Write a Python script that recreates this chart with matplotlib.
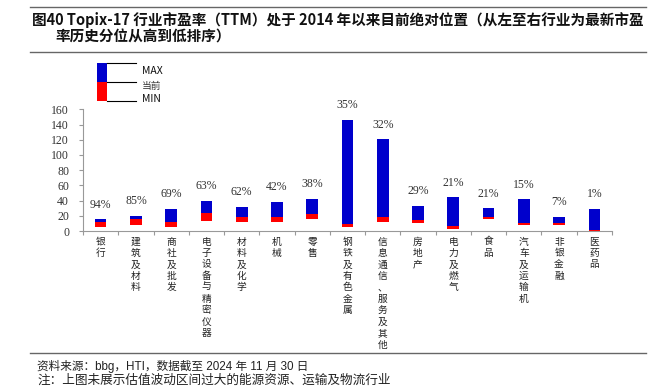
import matplotlib.pyplot as plt
from matplotlib.patches import Rectangle
from matplotlib.lines import Line2D

# 行业（从左到右按最新市盈率历史分位排序）
industries = ["银行", "建筑及材料", "商社及批发", "电子设备与精密仪器", "材料及化学",
              "机械", "零售", "钢铁及有色金属", "信息通信、服务及其他", "房地产",
              "电力及燃气", "食品", "汽车及运输机", "非银金融", "医药品"]
pe_max = [15.4, 19.7, 28.9, 39.5, 31.6, 38.2, 42.1, 146.0, 120.6, 32.9, 44.3, 29.8, 41.7, 18.9, 28.9]
pe_now = [12.2, 15.4, 11.4, 23.2, 18.0, 18.0, 22.8, 9.2, 18.0, 14.5, 7.0, 18.4, 10.5, 10.5, 0.8]
pe_min = [5.7, 7.9, 5.7, 13.2, 12.3, 12.3, 15.4, 4.8, 11.8, 11.0, 3.1, 15.4, 7.5, 7.9, 0.3]
pct_labels = ["94%", "85%", "69%", "63%", "62%", "42%", "38%", "35%", "32%", "29%",
              "21%", "21%", "15%", "7%", "1%"]
y_ticks = [0, 20, 40, 60, 80, 100, 120, 140, 160]

CJK = ["Noto Sans CJK SC", "DejaVu Sans"]
MIXED = ["Liberation Sans", "Noto Sans CJK SC"]
SERIF = ["Liberation Serif", "DejaVu Serif"]
BLUE = "#0000cc"
RED = "#ff0000"

W, H = 656, 389
fig = plt.figure(figsize=(W / 100, H / 100), dpi=100)


def px(x, y):
    # pixel position -> figure fraction
    return x / W, 1 - y / H


ax = fig.add_axes([83 / W, 1 - 231 / H, (612 - 83) / W, (231 - 109.3) / H])

x = list(range(len(industries)))
red_h = [n - m for n, m in zip(pe_now, pe_min)]
blue_h = [a - n for a, n in zip(pe_max, pe_now)]
ax.bar(x, red_h, bottom=pe_min, width=0.33, color=RED, linewidth=0)
ax.bar(x, blue_h, bottom=pe_now, width=0.33, color=BLUE, linewidth=0)

for i, lab in enumerate(pct_labels):
    ax.annotate(lab, (x[i], pe_max[i]), xytext=(0, 10.5), textcoords="offset points",
                ha="center", va="center", fontsize=8.5, family=SERIF, color="#333333")

ax.set_xlim(-0.5, len(industries) - 0.5)
ax.set_ylim(0, 160)
ax.set_yticks(y_ticks)
ax.set_yticklabels([str(v) for v in y_ticks], family=SERIF, fontsize=8.5, color="#333333")
ax.tick_params(axis="y", length=3, width=0.8, color="#999999", pad=7)

ax.set_xticks(x)
ax.set_xticklabels(["\n".join(n) for n in industries], family=CJK, fontsize=7,
                   color="#222222", linespacing=1.18)
ax.set_xticks([i - 0.5 for i in range(len(industries) + 1)], minor=True)
ax.tick_params(axis="x", which="major", length=0, pad=4)
ax.tick_params(axis="x", which="minor", length=3, width=0.8, color="#999999")

for s in ["top", "right"]:
    ax.spines[s].set_visible(False)
for s in ["left", "bottom"]:
    ax.spines[s].set_color("#999999")
    ax.spines[s].set_linewidth(0.8)

# 图例（手绘）
fig.add_artist(Rectangle(px(97, 82), 10 / W, 19 / H, transform=fig.transFigure,
                         color=BLUE, linewidth=0))
fig.add_artist(Rectangle(px(97, 101), 10 / W, 19 / H, transform=fig.transFigure,
                         color=RED, linewidth=0))
for yy in [63, 82, 101]:
    x0, y0 = px(107, yy)
    x1, _ = px(136, yy)
    fig.add_artist(Line2D([x0, x1], [y0, y0], transform=fig.transFigure,
                          color="black", linewidth=0.8))
fig.text(*px(142, 71), "MAX", fontsize=7.5, family=CJK, va="center", color="#111111")
fig.text(*px(142, 86), "当前", fontsize=7, family=CJK, va="center", color="#333333")
fig.text(*px(142, 99.5), "MIN", fontsize=7.5, family=CJK, va="center", color="#111111")

# 标题和注释
for yy in [7, 52, 353]:
    x0, y0 = px(30, yy)
    x1, _ = px(646, yy)
    fig.add_artist(Line2D([x0, x1], [y0, y0], transform=fig.transFigure,
                          color="#666666", linewidth=1.0))
fig.text(*px(32, 20), "图40 Topix-17 行业市盈率（TTM）处于 2014 年以来目前绝对位置（从左至右行业为最新市盈",
         fontsize=10.5, family=CJK, fontweight="bold", va="center", color="#111111")
fig.text(*px(55, 37), "率历史分位从高到低排序）",
         fontsize=10.5, family=CJK, fontweight="bold", va="center", color="#111111")
fig.text(*px(37, 366), "资料来源：bbg，HTI，数据截至 2024 年 11 月 30 日",
         fontsize=8.4, family=MIXED, va="center", color="#222222")
fig.text(*px(37, 381), "注：上图未展示估值波动区间过大的能源资源、运输及物流行业",
         fontsize=9.1, family=MIXED, va="center", color="#222222")

fig.savefig("out.png", dpi=100)
